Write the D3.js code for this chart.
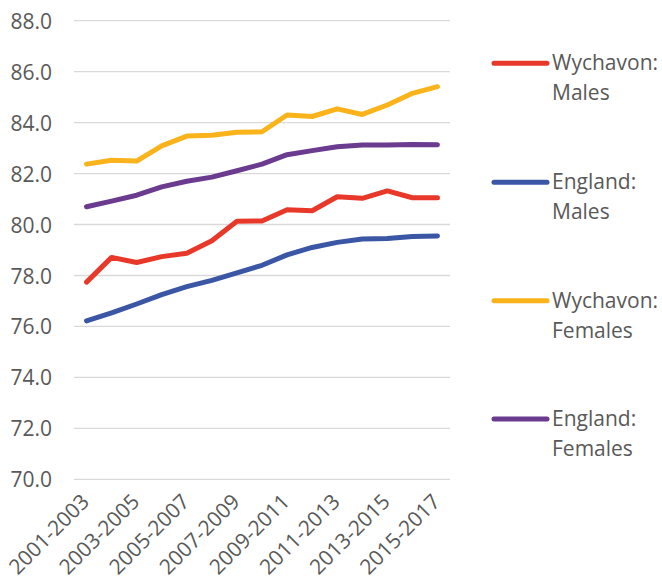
<!DOCTYPE html>
<html>
<head>
<meta charset="utf-8">
<script src="https://cdn.jsdelivr.net/npm/d3@7"></script>
<style>
  html, body { margin: 0; padding: 0; background: #fff; }
  svg { display: block; font-family: "Open Sans", sans-serif; }
</style>
</head>
<body>
<svg id="chart" width="662" height="584"></svg>
<script>
// Life expectancy at birth, three-year periods
const periods = ["2001-2003","2002-2004","2003-2005","2004-2006","2005-2007","2006-2008","2007-2009",
  "2008-2010","2009-2011","2010-2012","2011-2013","2012-2014","2013-2015","2014-2016","2015-2017"];
const wychavonMales   = [77.74,78.71,78.51,78.74,78.87,79.36,80.13,80.14,80.58,80.54,81.09,81.03,81.32,81.05,81.05];
const englandMales    = [76.22,76.53,76.88,77.25,77.56,77.81,78.10,78.40,78.81,79.10,79.30,79.43,79.45,79.53,79.55];
const wychavonFemales = [82.37,82.52,82.49,83.09,83.47,83.50,83.62,83.64,84.30,84.24,84.54,84.32,84.69,85.15,85.41];
const englandFemales  = [80.70,80.92,81.15,81.48,81.70,81.86,82.11,82.37,82.74,82.90,83.05,83.12,83.12,83.14,83.13];
const seriesNames  = [["Wychavon:","Males"],["England:","Males"],["Wychavon:","Females"],["England:","Females"]];
const seriesColors = ["#E8382A","#3A56A5","#FAB31A","#6A3B8E"];
const yTicks = [70,72,74,76,78,80,82,84,86,88];

const series = [wychavonMales, englandMales, wychavonFemales, englandFemales].map((vals, i) => ({
  name: seriesNames[i], color: seriesColors[i], values: vals
}));

const svg = d3.select("#chart");
const x = d3.scaleBand().domain(periods).range([74, 450]);
const y = d3.scaleLinear().domain([70, 88]).range([479.3, 20.7]);
const cx = d => x(d) + x.bandwidth() / 2;

// horizontal gridlines
svg.append("g").selectAll("line").data(yTicks).join("line")
  .attr("x1", 74).attr("x2", 450)
  .attr("y1", d => y(d)).attr("y2", d => y(d))
  .attr("stroke", "#D9D9D9").attr("stroke-width", 1.3);

// y-axis labels
const yAxis = svg.append("g").attr("transform", "translate(52,0)")
  .call(d3.axisLeft(y).tickValues(yTicks).tickFormat(d3.format(".1f")).tickSize(0).tickPadding(0));
yAxis.select(".domain").remove();
yAxis.selectAll("text").attr("fill", "#595959").attr("font-size", 21)
  .attr("font-family", "Open Sans, sans-serif").attr("dy", "0.36em");

// x-axis labels (every other period), rotated
const xLabels = periods.filter((d, i) => i % 2 === 0);
svg.append("g").selectAll("text").data(xLabels).join("text")
  .attr("transform", d => `translate(${cx(d) + 4},${503}) rotate(-45)`)
  .attr("text-anchor", "end")
  .attr("fill", "#595959").attr("font-size", 21)
  .text(d => d);

// series lines
const line = d3.line().x((v, i) => cx(periods[i])).y(v => y(v));
svg.append("g").selectAll("path").data(series).join("path")
  .attr("d", d => line(d.values))
  .attr("fill", "none").attr("stroke", d => d.color)
  .attr("stroke-width", 5).attr("stroke-linejoin", "round").attr("stroke-linecap", "round");

// legend
const legendY = [63.3, 182.3, 300.7, 419];
const lg = svg.append("g").selectAll("g").data(series).join("g")
  .attr("transform", (d, i) => `translate(0,${legendY[i]})`);
lg.append("line").attr("x1", 494).attr("x2", 547).attr("y1", 0).attr("y2", 0)
  .attr("stroke", d => d.color).attr("stroke-width", 5).attr("stroke-linecap", "round");
lg.append("text").attr("x", 552).attr("y", 7).attr("fill", "#595959").attr("font-size", 21)
  .selectAll("tspan").data(d => d.name).join("tspan")
  .attr("x", 552).attr("dy", (t, j) => j === 0 ? 0 : 30).text(t => t);
</script>
</body>
</html>
